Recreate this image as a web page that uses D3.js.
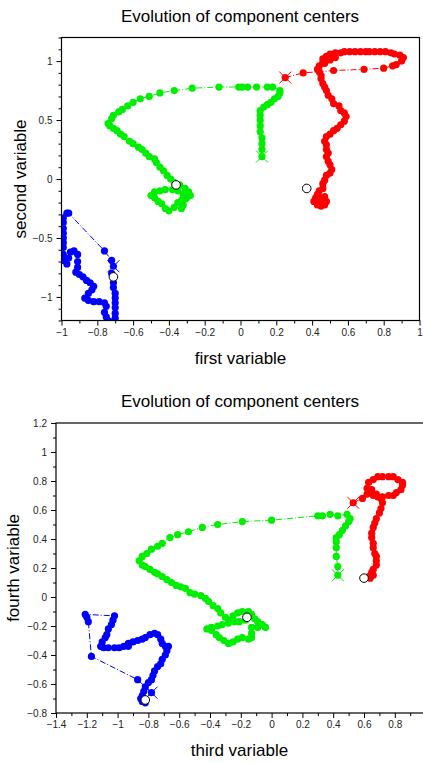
<!DOCTYPE html>
<html>
<head>
<meta charset="utf-8">
<script src="https://cdn.jsdelivr.net/npm/d3@7"></script>
<style>
	body { margin: 0; background: #fff; }
	text { font-family: Arial, "Liberation Sans", sans-serif; fill: #000; }
	.tick text { font-size: 10px; fill: #222; }
	.title { font-size: 17px; }
	.axisTitle { font-size: 17px; }
</style>
</head>
<body>
<div id="chart"></div>
<script>
// first plot: first variable vs second variable
var redTopX = [0.25,0.35,0.44,0.52,0.69,0.80,0.85,0.87,0.90,0.91,0.89,0.86,0.84,0.81,0.78,0.75,0.72,0.70,0.67,0.64,0.61,0.58,0.56,0.53,0.50,0.48,0.46,0.46,0.48,0.51,0.53,0.50,0.47,0.44,0.43,0.45,0.45,0.46,0.47,0.48,0.49,0.51,0.52,0.55,0.56,0.58,0.59,0.58,0.56,0.54,0.52,0.50,0.48,0.47,0.48,0.48,0.49,0.48,0.49,0.50,0.51,0.50,0.48,0.47,0.46,0.46,0.44,0.43,0.42,0.41,0.43,0.45,0.47,0.48,0.47,0.45,0.43,0.45,0.46];
var redTopY = [0.86,0.90,0.91,0.92,0.93,0.94,0.96,0.97,1.00,1.03,1.05,1.06,1.07,1.08,1.08,1.08,1.08,1.08,1.08,1.08,1.08,1.08,1.07,1.07,1.06,1.04,1.02,0.99,1.01,1.03,1.03,1.01,0.98,0.96,0.93,0.88,0.85,0.81,0.78,0.75,0.71,0.68,0.64,0.62,0.58,0.56,0.53,0.49,0.46,0.43,0.41,0.38,0.36,0.32,0.29,0.25,0.22,0.19,0.15,0.12,0.08,0.05,0.03,-0.01,-0.04,-0.08,-0.10,-0.13,-0.16,-0.19,-0.22,-0.23,-0.22,-0.19,-0.15,-0.16,-0.19,-0.20,-0.19];

var greenTopX = [0.12,0.12,0.12,0.12,0.11,0.11,0.11,0.11,0.11,0.13,0.15,0.17,0.19,0.21,0.22,0.22,0.18,0.15,0.09,0.04,0.01,-0.01,-0.12,-0.27,-0.37,-0.45,-0.51,-0.56,-0.60,-0.63,-0.66,-0.68,-0.71,-0.72,-0.74,-0.73,-0.71,-0.69,-0.67,-0.65,-0.62,-0.60,-0.57,-0.55,-0.53,-0.51,-0.48,-0.47,-0.45,-0.43,-0.41,-0.39,-0.37,-0.34,-0.31,-0.29,-0.28,-0.30,-0.33,-0.35,-0.37,-0.40,-0.42,-0.44,-0.46,-0.48,-0.50,-0.48,-0.45,-0.42,-0.38,-0.35,-0.32,-0.31,-0.32,-0.33];
var greenTopY = [0.19,0.25,0.30,0.35,0.40,0.45,0.50,0.54,0.58,0.61,0.63,0.65,0.68,0.70,0.73,0.75,0.78,0.78,0.78,0.78,0.78,0.78,0.78,0.77,0.75,0.73,0.70,0.68,0.65,0.62,0.59,0.57,0.54,0.51,0.47,0.45,0.43,0.41,0.38,0.36,0.32,0.30,0.27,0.25,0.22,0.19,0.17,0.14,0.10,0.07,0.03,0.00,-0.03,-0.05,-0.08,-0.11,-0.14,-0.16,-0.18,-0.20,-0.24,-0.27,-0.25,-0.21,-0.19,-0.16,-0.14,-0.11,-0.10,-0.09,-0.09,-0.10,-0.13,-0.17,-0.22,-0.25];

var blueTopX = [-0.71,-0.72,-0.76,-0.96,-0.97,-0.99,-0.99,-0.99,-0.99,-0.99,-0.99,-0.99,-0.99,-0.99,-0.97,-0.96,-0.95,-0.93,-0.91,-0.91,-0.91,-0.92,-0.90,-0.88,-0.86,-0.84,-0.82,-0.83,-0.85,-0.87,-0.85,-0.82,-0.79,-0.76,-0.75,-0.76,-0.75,-0.74,-0.71,-0.70,-0.70,-0.70,-0.70,-0.70,-0.70,-0.71,-0.71,-0.71,-0.72];
var blueTopY = [-0.74,-0.69,-0.61,-0.29,-0.29,-0.33,-0.37,-0.42,-0.46,-0.50,-0.54,-0.58,-0.64,-0.69,-0.72,-0.67,-0.62,-0.61,-0.64,-0.70,-0.75,-0.79,-0.81,-0.83,-0.86,-0.88,-0.91,-0.94,-0.97,-1.01,-1.03,-1.04,-1.04,-1.05,-1.08,-1.13,-1.17,-1.20,-1.21,-1.18,-1.14,-1.09,-1.05,-1.01,-0.97,-0.92,-0.88,-0.84,-0.80];

// true centers (open circles), order: red, green, blue
var centerTopX = [0.37, -0.36, -0.71];
var centerTopY = [-0.08, -0.05, -0.83];

// second plot: third variable vs fourth variable
var redBotX = [0.53,0.59,0.62,0.62,0.63,0.66,0.69,0.72,0.76,0.79,0.82,0.85,0.85,0.84,0.81,0.79,0.76,0.72,0.69,0.66,0.64,0.65,0.68,0.71,0.72,0.71,0.70,0.68,0.67,0.66,0.65,0.65,0.66,0.66,0.67,0.68,0.68,0.68,0.66,0.65,0.63,0.64,0.66];
var redBotY = [0.65,0.68,0.71,0.75,0.79,0.81,0.83,0.83,0.83,0.83,0.81,0.79,0.77,0.74,0.72,0.70,0.70,0.69,0.69,0.70,0.72,0.74,0.71,0.68,0.65,0.61,0.58,0.54,0.51,0.48,0.44,0.41,0.37,0.34,0.30,0.28,0.25,0.22,0.19,0.17,0.14,0.13,0.15];

var greenBotX = [0.43,0.43,0.42,0.42,0.42,0.42,0.44,0.46,0.48,0.50,0.51,0.49,0.43,0.38,0.33,0.30,0.00,-0.19,-0.35,-0.45,-0.54,-0.61,-0.66,-0.71,-0.74,-0.78,-0.81,-0.84,-0.86,-0.84,-0.82,-0.79,-0.76,-0.74,-0.71,-0.68,-0.65,-0.62,-0.59,-0.56,-0.53,-0.50,-0.46,-0.43,-0.41,-0.38,-0.35,-0.33,-0.30,-0.28,-0.25,-0.22,-0.19,-0.15,-0.13,-0.11,-0.09,-0.06,-0.04,-0.09,-0.13,-0.13,-0.13,-0.15,-0.19,-0.22,-0.25,-0.28,-0.31,-0.34,-0.36,-0.39,-0.42,-0.39,-0.35,-0.32,-0.28,-0.24,-0.21,-0.17];
var greenBotY = [0.15,0.21,0.28,0.34,0.38,0.41,0.43,0.46,0.49,0.52,0.54,0.57,0.56,0.57,0.56,0.56,0.53,0.52,0.50,0.48,0.45,0.43,0.41,0.37,0.35,0.33,0.30,0.28,0.25,0.22,0.21,0.19,0.17,0.16,0.14,0.12,0.10,0.08,0.07,0.06,0.03,0.02,0.01,-0.01,-0.03,-0.06,-0.08,-0.11,-0.14,-0.16,-0.13,-0.11,-0.10,-0.10,-0.12,-0.15,-0.17,-0.19,-0.21,-0.21,-0.21,-0.25,-0.28,-0.29,-0.28,-0.29,-0.31,-0.32,-0.30,-0.28,-0.26,-0.23,-0.22,-0.21,-0.20,-0.19,-0.18,-0.17,-0.17,-0.16];

var blueBotX = [-0.78,-0.87,-1.17,-1.19,-1.20,-1.21,-1.02,-1.03,-1.04,-1.06,-1.07,-1.08,-1.10,-1.11,-1.09,-1.06,-1.02,-0.99,-0.96,-0.93,-0.93,-0.90,-0.87,-0.84,-0.82,-0.79,-0.76,-0.74,-0.72,-0.71,-0.69,-0.67,-0.68,-0.69,-0.71,-0.72,-0.74,-0.76,-0.77,-0.78,-0.80,-0.82,-0.83,-0.84,-0.85,-0.84,-0.82];
var blueBotY = [-0.66,-0.57,-0.41,-0.17,-0.14,-0.12,-0.13,-0.16,-0.19,-0.22,-0.26,-0.28,-0.31,-0.34,-0.35,-0.35,-0.35,-0.35,-0.34,-0.34,-0.32,-0.31,-0.30,-0.29,-0.28,-0.26,-0.25,-0.26,-0.29,-0.32,-0.34,-0.34,-0.37,-0.40,-0.43,-0.46,-0.48,-0.51,-0.54,-0.57,-0.59,-0.62,-0.65,-0.68,-0.70,-0.72,-0.73];

var centerBotX = [0.60, -0.16, -0.82];
var centerBotY = [0.13, -0.14, -0.71];

var seriesColors = ["#ff0000", "#00ee00", "#0000ff"];

var svg = d3.select("#chart")
	.append("svg")
	.attr("width", 423)
	.attr("height", 763)
;

function zipPoints(xs, ys) {
	return xs.map(function(x, i) { return [x, ys[i]]; });
}

function drawPanel(opts) {
	var xScale = d3.scaleLinear()
		.domain(opts.xDomain)
		.range([opts.left, opts.right])
	;
	var yScale = d3.scaleLinear()
		.domain(opts.yDomain)
		.range([opts.bottom, opts.top])
	;

	var g = svg.append("g");

	g.append("clipPath")
		.attr("id", opts.id + "Clip")
		.append("rect")
		.attr("x", opts.left)
		.attr("y", opts.top)
		.attr("width", opts.right - opts.left)
		.attr("height", opts.bottom - opts.top)
	;

	var plot = g.append("g")
		.attr("clip-path", "url(#" + opts.id + "Clip)")
	;

	var line = d3.line()
		.x(function(d) { return xScale(d[0]); })
		.y(function(d) { return yScale(d[1]); })
	;

	opts.series.forEach(function(s, k) {
		var pts = zipPoints(s[0], s[1]);
		var color = seriesColors[k];

		plot.append("path")
			.datum(pts)
			.attr("d", line)
			.attr("fill", "none")
			.attr("stroke", color)
			.attr("stroke-width", 1)
			.attr("stroke-dasharray", "6,2,1,2")
		;

		plot.selectAll("circle.dot" + k)
			.data(pts)
			.enter()
			.append("circle")
			.attr("class", "dot" + k)
			.attr("cx", function(d) { return xScale(d[0]); })
			.attr("cy", function(d) { return yScale(d[1]); })
			.attr("r", 3.6)
			.attr("fill", color)
		;

		// starting point marked with a cross
		var sx = xScale(pts[0][0]), sy = yScale(pts[0][1]);
		plot.append("path")
			.attr("d", "M" + (sx - 6) + "," + (sy - 6) + "L" + (sx + 6) + "," + (sy + 6) +
				"M" + (sx - 6) + "," + (sy + 6) + "L" + (sx + 6) + "," + (sy - 6))
			.attr("stroke", color)
			.attr("stroke-width", 1)
		;
	});

	plot.selectAll("circle.center")
		.data(zipPoints(opts.centers[0], opts.centers[1]))
		.enter()
		.append("circle")
		.attr("class", "center")
		.attr("cx", function(d) { return xScale(d[0]); })
		.attr("cy", function(d) { return yScale(d[1]); })
		.attr("r", 4.3)
		.attr("fill", "#fff")
		.attr("stroke", "#000")
		.attr("stroke-width", 1)
	;

/*
	Frame and axes
*/
	g.append("rect")
		.attr("x", opts.left)
		.attr("y", opts.top)
		.attr("width", opts.right - opts.left)
		.attr("height", opts.bottom - opts.top)
		.attr("fill", "none")
		.attr("stroke", "#000")
		.attr("stroke-width", 1.2)
	;

	var xAxis = d3.axisBottom(xScale)
		.tickValues(opts.xTicks)
		.tickFormat(d3.format("~g"))
		.tickSize(5)
		.tickPadding(3)
	;
	var xMinor = d3.axisBottom(xScale)
		.tickValues(opts.xMinor)
		.tickFormat("")
		.tickSize(3)
	;
	var yAxis = d3.axisLeft(yScale)
		.tickValues(opts.yTicks)
		.tickFormat(d3.format("~g"))
		.tickSize(5)
		.tickPadding(4)
	;
	var yMinor = d3.axisLeft(yScale)
		.tickValues(opts.yMinor)
		.tickFormat("")
		.tickSize(3)
	;

	[xAxis, xMinor].forEach(function(ax) {
		g.append("g")
			.attr("transform", "translate(0," + opts.bottom + ")")
			.call(ax)
			.call(function(a) { a.select(".domain").remove(); })
		;
	});
	[yAxis, yMinor].forEach(function(ax) {
		g.append("g")
			.attr("transform", "translate(" + opts.left + ",0)")
			.call(ax)
			.call(function(a) { a.select(".domain").remove(); })
		;
	});

	g.append("text")
		.attr("class", "title")
		.attr("x", 240)
		.attr("y", opts.top - 16)
		.attr("text-anchor", "middle")
		.text("Evolution of component centers")
	;
	g.append("text")
		.attr("class", "axisTitle")
		.attr("x", (opts.left + Math.min(opts.right, 423)) / 2)
		.attr("y", opts.bottom + 43)
		.attr("text-anchor", "middle")
		.text(opts.xLabel)
	;
	g.append("text")
		.attr("class", "axisTitle")
		.attr("transform", "translate(" + opts.yLabelX + "," + ((opts.top + opts.bottom) / 2) + ") rotate(-90)")
		.attr("text-anchor", "middle")
		.text(opts.yLabel)
	;
}

drawPanel({
	id: "top",
	left: 61.5, right: 419.5, top: 37.5, bottom: 320.5,
	xDomain: [-1, 1], yDomain: [-1.2, 1.2],
	xTicks: d3.range(-10, 11, 2).map(function(v) { return v / 10; }),
	xMinor: d3.range(-9, 10, 2).map(function(v) { return v / 10; }),
	yTicks: [-1, -0.5, 0, 0.5, 1],
	yMinor: d3.range(-12, 13).filter(function(v) { return v % 5 !== 0; }).map(function(v) { return v / 10; }),
	series: [[redTopX, redTopY], [greenTopX, greenTopY], [blueTopX, blueTopY]],
	centers: [centerTopX, centerTopY],
	xLabel: "first variable",
	yLabel: "second variable",
	yLabelX: 26
});

drawPanel({
	id: "bot",
	left: 56, right: 425.6, top: 423, bottom: 713,
	xDomain: [-1.4, 1.0], yDomain: [-0.8, 1.2],
	xTicks: d3.range(-14, 9, 2).map(function(v) { return v / 10; }),
	xMinor: d3.range(-13, 10, 2).map(function(v) { return v / 10; }),
	yTicks: d3.range(-8, 13, 2).map(function(v) { return v / 10; }),
	yMinor: d3.range(-7, 12, 2).map(function(v) { return v / 10; }),
	series: [[redBotX, redBotY], [greenBotX, greenBotY], [blueBotX, blueBotY]],
	centers: [centerBotX, centerBotY],
	xLabel: "third variable",
	yLabel: "fourth variable",
	yLabelX: 19
});
</script>
</body>
</html>
